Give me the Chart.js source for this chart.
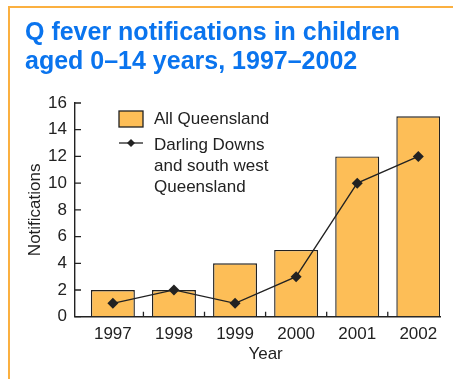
<!DOCTYPE html>
<html>
<head>
<meta charset="utf-8">
<script src="https://cdn.jsdelivr.net/npm/chart.js@4/dist/chart.umd.min.js"></script>
<style>
  html, body { margin: 0; padding: 0; background: #ffffff; }
  #wrap { position: relative; width: 453px; height: 379px; overflow: hidden; }
  #frame {
    position: absolute; left: 8px; top: 6px; right: -4px; bottom: -4px;
    border-top: 2px solid #fbb040; border-left: 2px solid #fbb040;
  }
  canvas { position: absolute; left: 0; top: 0; }
</style>
</head>
<body>
<div id="wrap">
  <div id="frame"></div>
  <canvas id="chart" width="453" height="379"></canvas>
</div>
<script>
// Q fever notifications, children aged 0–14
const years = [1997, 1998, 1999, 2000, 2001, 2002];
const allQueensland = [2, 2, 4, 5, 12, 15];
const darlingDowns = [1, 2, 1, 3, 10, 12];
const yTicks = [0, 2, 4, 6, 8, 10, 12, 14, 16];

const seriesNames = ['All Queensland', ['Darling Downs', 'and south west', 'Queensland']];
const titleLines = ['Q fever notifications in children', 'aged 0–14 years, 1997–2002'];
const xTitle = 'Year';

const FONT = '"Liberation Sans", Arial, Helvetica, sans-serif';
const INK = '#222222';
const BAR = '#fdbe57';

// short tick marks pointing into the plot: left axis at every value,
// bottom axis on the boundaries between years
const innerTicks = {
  id: 'innerTicks',
  afterDraw(chart) {
    const { ctx, scales: { x, y } } = chart;
    ctx.save();
    ctx.strokeStyle = INK;
    ctx.lineWidth = 1.3;
    ctx.beginPath();
    yTicks.forEach(v => {
      const py = y.getPixelForValue(v);
      ctx.moveTo(x.left, py);
      ctx.lineTo(x.left + 6, py);
    });
    for (let i = 0; i < years.length - 1; i++) {
      const px = x.getPixelForValue((years[i] + years[i + 1]) / 2);
      ctx.moveTo(px, y.bottom);
      ctx.lineTo(px, y.bottom - 5);
    }
    ctx.stroke();
    // x axis title, centred under the span of the year columns
    const x0 = x.getPixelForValue(years[0] - 0.5);
    const x1 = x.getPixelForValue(years[years.length - 1] + 0.5);
    ctx.font = '17px ' + FONT;
    ctx.fillStyle = INK;
    ctx.textAlign = 'center';
    ctx.textBaseline = 'middle';
    ctx.fillText(xTitle, (x0 + x1) / 2, y.bottom + 37.5);
    ctx.restore();
  }
};

// legend drawn inside the plot, top-left
const insideLegend = {
  id: 'insideLegend',
  afterDraw(chart) {
    const { ctx, chartArea: a } = chart;
    const sx = a.left + 44, sw = 24;
    const tx = a.left + 79;
    ctx.save();
    ctx.font = '17px ' + FONT;
    ctx.fillStyle = INK;
    ctx.textBaseline = 'middle';
    // bar swatch
    const r1 = a.top + 16;
    ctx.fillStyle = BAR;
    ctx.fillRect(sx, r1 - 8, sw, 16);
    ctx.strokeStyle = INK;
    ctx.lineWidth = 1.3;
    ctx.strokeRect(sx, r1 - 8, sw, 16);
    ctx.fillStyle = INK;
    ctx.fillText(seriesNames[0], tx, r1);
    // line + marker
    const r2 = a.top + 41;
    ctx.beginPath();
    ctx.moveTo(sx, r2 - 1);
    ctx.lineTo(sx + sw, r2 - 1);
    ctx.stroke();
    const cx = sx + sw / 2, cy = r2 - 1, d = 4;
    ctx.beginPath();
    ctx.moveTo(cx, cy - d); ctx.lineTo(cx + d, cy); ctx.lineTo(cx, cy + d); ctx.lineTo(cx - d, cy);
    ctx.closePath();
    ctx.fill();
    seriesNames[1].forEach((t, i) => ctx.fillText(t, tx, r2 + 1 + i * 21));
    ctx.restore();
  }
};

new Chart(document.getElementById('chart'), {
  data: {
    datasets: [
      {
        type: 'line',
        label: seriesNames[1].join(' '),
        data: years.map((yr, i) => ({ x: yr, y: darlingDowns[i] })),
        borderColor: INK,
        backgroundColor: INK,
        borderWidth: 1.3,
        pointStyle: 'rectRot',
        pointRadius: 5.5,
        pointBorderWidth: 0,
        tension: 0,
        order: 0
      },
      {
        type: 'bar',
        label: seriesNames[0],
        data: years.map((yr, i) => ({ x: yr, y: allQueensland[i] })),
        backgroundColor: BAR,
        borderColor: INK,
        borderWidth: 1.4,
        categoryPercentage: 0.8,
        barPercentage: 0.9,
        order: 1
      }
    ]
  },
  options: {
    responsive: false,
    animation: false,
    events: [],
    layout: { padding: { left: 25, right: 13, top: 0, bottom: 0 } },
    plugins: {
      legend: { display: false },
      tooltip: { enabled: false },
      title: {
        display: true,
        text: titleLines,
        align: 'start',
        color: '#0a74ee',
        font: { family: FONT, size: 25, weight: 'bold', lineHeight: 1.18 },
        padding: { top: 18, bottom: 26 }
      }
    },
    scales: {
      x: {
        type: 'linear',
        offset: false,
        min: years[0] - 0.62,
        max: years[years.length - 1] + 0.355,
        afterBuildTicks(scale) { scale.ticks = years.map(v => ({ value: v })); },
        afterFit(scale) { scale.height = 62.3; },
        ticks: {
          callback: v => String(v),
          color: INK,
          font: { family: FONT, size: 17 },
          padding: 7,
          maxRotation: 0,
          autoSkip: false
        },
        grid: { display: true, offset: false, drawOnChartArea: false, drawTicks: false },
        border: { display: true, color: INK, width: 1.4 }
      },
      y: {
        min: 0,
        max: 16,
        afterBuildTicks(scale) { scale.ticks = yTicks.map(v => ({ value: v })); },
        afterFit(scale) { scale.width = 50; },
        ticks: {
          color: INK,
          font: { family: FONT, size: 17 },
          padding: 8
        },
        grid: { display: true, drawOnChartArea: false, drawTicks: false },
        border: { display: true, color: INK, width: 1.4 },
        title: { display: true, text: 'Notifications', color: INK, font: { family: FONT, size: 17 }, padding: 0 }
      }
    }
  },
  plugins: [innerTicks, insideLegend]
});
</script>
</body>
</html>
